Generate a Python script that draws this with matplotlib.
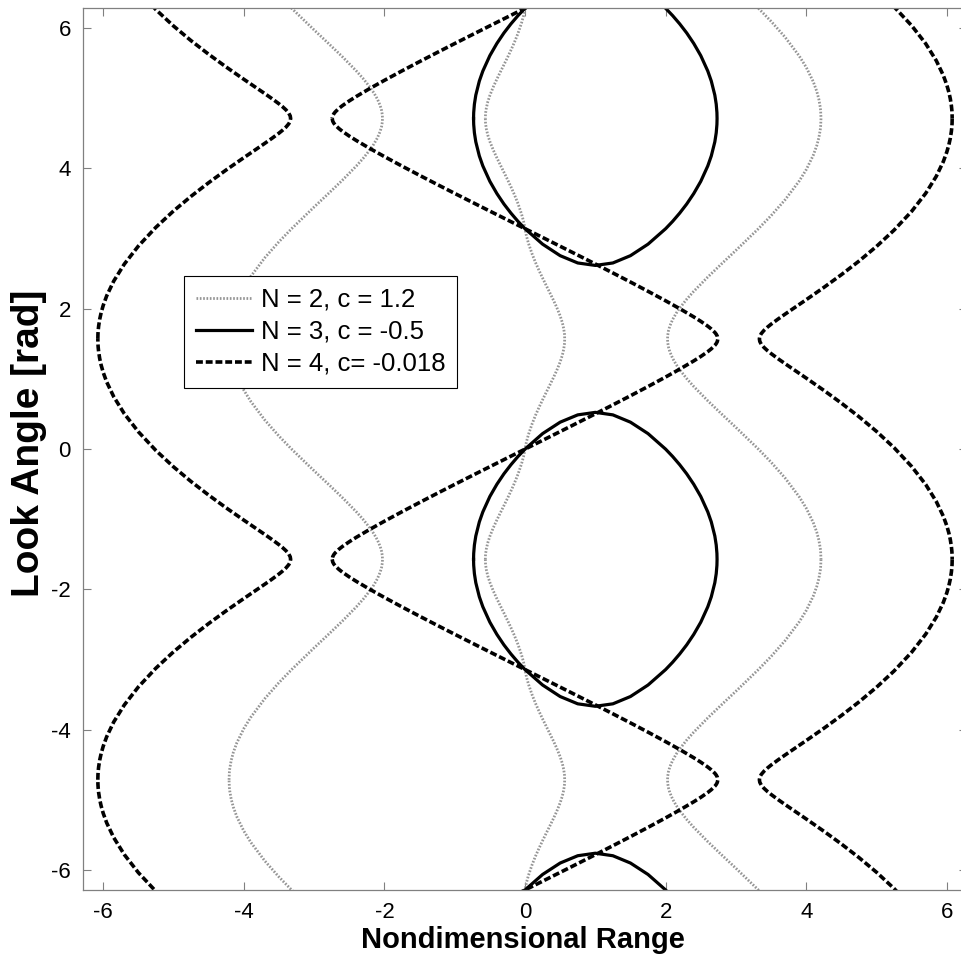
import numpy as np
import matplotlib.pyplot as plt
from matplotlib.lines import Line2D

plt.rcParams['font.family'] = ['Liberation Sans', 'DejaVu Sans']
plt.rcParams['axes.unicode_minus'] = False

TWO_PI = 2 * np.pi

# one 2*pi period of each trajectory: x = nondimensional range, y = look angle [rad]

# N = 2, c = 1.2 : branch around zero range
n2_mid_x = [-0.5643, -0.562, -0.56, -0.55, -0.53, -0.5, -0.45, -0.4, -0.35, -0.3, -0.25, -0.2, -0.15,
            -0.1, -0.05, -0.02, 0.0, 0.02, 0.05, 0.1, 0.15, 0.2, 0.25, 0.3, 0.35, 0.4, 0.45, 0.5,
            0.53, 0.55, 0.56, 0.562, 0.5643,
            0.562, 0.56, 0.55, 0.53, 0.5, 0.45, 0.4, 0.35, 0.3, 0.25, 0.2, 0.15, 0.1, 0.05, 0.02,
            0.0, -0.02, -0.05, -0.1, -0.15, -0.2, -0.25, -0.3, -0.35, -0.4, -0.45, -0.5, -0.53,
            -0.55, -0.56, -0.562, -0.5643]
n2_mid_y = [4.7124, 4.6528, 4.6311, 4.5627, 4.4773, 4.3840, 4.2598, 4.1510, 4.0482, 3.9471, 3.8447,
            3.7383, 3.6248, 3.4995, 3.3530, 3.2440, 3.1416, 3.0392, 2.9302, 2.7837, 2.6584, 2.5449,
            2.4385, 2.3361, 2.2350, 2.1322, 2.0234, 1.8992, 1.8059, 1.7205, 1.6521, 1.6304, 1.5708,
            1.5112, 1.4895, 1.4211, 1.3357, 1.2424, 1.1182, 1.0094, 0.9066, 0.8055, 0.7031, 0.5967,
            0.4832, 0.3579, 0.2114, 0.1024, 0.0, -0.1024, -0.2114, -0.3579, -0.4832, -0.5967,
            -0.7031, -0.8055, -0.9066, -1.0094, -1.1182, -1.2424, -1.3357, -1.4211, -1.4895,
            -1.5112, -1.5708]

# N = 2 : right-hand branch (the left one is its point reflection)
n2_side_x = [4.2102, 4.205, 4.2, 4.18, 4.15, 4.1, 4.0, 3.9, 3.7, 3.5, 3.32, 3.0, 2.8, 2.6, 2.4, 2.3,
             2.2, 2.15, 2.1, 2.06, 2.04, 2.03, 2.0274,
             2.03, 2.04, 2.06, 2.1, 2.15, 2.2, 2.3, 2.4, 2.6, 2.8, 3.0, 3.32, 3.5, 3.7, 3.9, 4.0,
             4.1, 4.15, 4.18, 4.2, 4.205, 4.2102]
n2_side_y = [4.7124, 4.5990, 4.5532, 4.4384, 4.3250, 4.1868, 3.9824, 3.8203, 3.5540, 3.3273, 3.1416,
             2.8325, 2.6443, 2.4527, 2.2487, 2.1363, 2.0093, 1.9355, 1.8476, 1.7542, 1.6841,
             1.6220, 1.5708,
             1.5196, 1.4575, 1.3874, 1.2940, 1.2061, 1.1323, 1.0053, 0.8929, 0.6889, 0.4973,
             0.3091, 0.0, -0.1857, -0.4124, -0.6787, -0.8408, -1.0452, -1.1834, -1.2968, -1.4116,
             -1.4574, -1.5708]

# N = 3, c = -0.5 : closed loop
n3_loop_x = [-0.732, -0.73, -0.72, -0.70, -0.65, -0.60, -0.50, -0.40, -0.30, -0.20, -0.10, 0.00,
             0.25, 0.50, 0.75, 1.00, 1.25, 1.50, 1.75, 2.00, 2.10, 2.20, 2.30, 2.40, 2.50, 2.60,
             2.65, 2.70, 2.72, 2.73, 2.732,
             2.73, 2.72, 2.70, 2.65, 2.60, 2.50, 2.40, 2.30, 2.20, 2.10, 2.00, 1.75, 1.50, 1.25,
             1.00, 0.75, 0.50, 0.25, 0.00, -0.10, -0.20, -0.30, -0.40, -0.50, -0.60, -0.65, -0.70,
             -0.72, -0.73, -0.732]
n3_loop_y = [-1.571, -1.487, -1.367, -1.238, -1.038, -0.895, -0.675, -0.501, -0.352, -0.222,
             -0.105, 0.000, 0.221, 0.384, 0.488, 0.524, 0.488, 0.384, 0.221, 0.000, -0.105, -0.222,
             -0.352, -0.501, -0.675, -0.895, -1.038, -1.238, -1.367, -1.487, -1.571,
             -1.655, -1.775, -1.904, -2.104, -2.247, -2.467, -2.641, -2.790, -2.920, -3.037,
             -3.142, -3.362, -3.526, -3.630, -3.665, -3.630, -3.526, -3.362, -3.142, -3.037,
             -2.920, -2.790, -2.641, -2.467, -2.247, -2.104, -1.904, -1.775, -1.655, -1.571]

# N = 4, c = -0.018 : zigzag through the origin
n4_mid_x = [-2.743, -2.735, -2.72, -2.7, -2.65, -2.6, -2.5, -2.4, -2.2, -2.0, -1.75, -1.5, -1.25,
            -1.0, -0.75, -0.5, -0.25, 0.0, 0.25, 0.5, 0.75, 1.0, 1.25, 1.5, 1.75, 2.0, 2.2, 2.4,
            2.5, 2.6, 2.65, 2.7, 2.72, 2.735, 2.743,
            2.735, 2.72, 2.7, 2.65, 2.6, 2.5, 2.4, 2.2, 2.0, 1.75, 1.5, 1.25, 1.0, 0.75, 0.5, 0.25,
            0.0, -0.25, -0.5, -0.75, -1.0, -1.25, -1.5, -1.75, -2.0, -2.2, -2.4, -2.5, -2.6,
            -2.65, -2.7, -2.72, -2.735, -2.743]
n4_mid_y = [4.7124, 4.6738, 4.6457, 4.6197, 4.5711, 4.5312, 4.4617, 4.3986, 4.2809, 4.1691, 4.0339,
            3.9021, 3.7725, 3.6445, 3.5178, 3.3920, 3.2666, 3.1416, 3.0166, 2.8912, 2.7654,
            2.6387, 2.5107, 2.3811, 2.2493, 2.1141, 2.0023, 1.8846, 1.8215, 1.7520, 1.7121,
            1.6635, 1.6375, 1.6094, 1.5708,
            1.5322, 1.5041, 1.4781, 1.4295, 1.3896, 1.3201, 1.2570, 1.1393, 1.0275, 0.8923,
            0.7605, 0.6309, 0.5029, 0.3762, 0.2504, 0.1250, 0.0, -0.1250, -0.2504, -0.3762,
            -0.5029, -0.6309, -0.7605, -0.8923, -1.0275, -1.1393, -1.2570, -1.3201, -1.3896,
            -1.4295, -1.4781, -1.5041, -1.5322, -1.5708]

# N = 4 : right-hand branch (the left one is its point reflection)
n4_side_x = [6.0765, 6.075, 6.072, 6.065, 6.05, 6.03, 6.0, 5.95, 5.85, 5.7, 5.5, 5.25, 5.0, 4.75,
             4.5, 4.25, 4.0, 3.8, 3.7, 3.6, 3.5, 3.45, 3.4, 3.36, 3.34, 3.334,
             3.34, 3.36, 3.4, 3.45, 3.5, 3.6, 3.7, 3.8, 4.0, 4.25, 4.5, 4.75, 5.0, 5.25, 5.5, 5.7,
             5.85, 5.95, 6.0, 6.03, 6.05, 6.065, 6.072, 6.075, 6.0765]
n4_side_y = [4.7124, 4.6456, 4.5964, 4.5289, 4.4322, 4.3404, 4.2346, 4.0971, 3.8875, 3.6462,
             3.3889, 3.1213, 2.8889, 2.6794, 2.4859, 2.3037, 2.1294, 1.9927, 1.9241, 1.8539,
             1.7798, 1.7392, 1.6931, 1.6456, 1.6071, 1.5708,
             1.5345, 1.4960, 1.4485, 1.4024, 1.3618, 1.2877, 1.2175, 1.1489, 1.0122, 0.8379,
             0.6557, 0.4622, 0.2527, 0.0203, -0.2473, -0.5046, -0.7459, -0.9555, -1.0930,
             -1.1988, -1.2906, -1.3873, -1.4548, -1.5040, -1.5708]

labels = ['N = 2, c = 1.2', 'N = 3, c = -0.5', 'N = 4, c= -0.018']

gray_style = dict(color='#959595', lw=2.0, ls=(0, (0.6, 0.6)))
solid_style = dict(color='black', lw=2.3, ls='-')
dash_style = dict(color='black', lw=2.6, ls=(0, (1.9, 0.8)))

fig = plt.figure(figsize=(9.62, 9.61), dpi=100)
ax = fig.add_axes([0.0866, 0.0739, 0.9183, 0.9175])

for k in (-1, 0, 1):
    s = k * TWO_PI
    ax.plot(n2_mid_x, np.array(n2_mid_y) + s, **gray_style)
    ax.plot(n2_side_x, np.array(n2_side_y) + s, **gray_style)
    ax.plot(-np.array(n2_side_x), -np.array(n2_side_y) + s, **gray_style)
for k in (-1, 0, 1):
    s = k * TWO_PI
    ax.plot(n3_loop_x, np.array(n3_loop_y) + s, **solid_style)
for k in (-1, 0, 1):
    s = k * TWO_PI
    ax.plot(n4_mid_x, np.array(n4_mid_y) + s, **dash_style)
    ax.plot(n4_side_x, np.array(n4_side_y) + s, **dash_style)
    ax.plot(-np.array(n4_side_x), -np.array(n4_side_y) + s, **dash_style)

ax.set_xlim(-TWO_PI, TWO_PI)
ax.set_ylim(-TWO_PI, TWO_PI)
ticks = [-6, -4, -2, 0, 2, 4, 6]
ax.set_xticks(ticks)
ax.set_yticks(ticks)
ax.set_xticklabels([str(t) for t in ticks])
ax.set_yticklabels([str(t) for t in ticks])
ax.tick_params(direction='in', length=6, width=0.8, color='#808080', labelsize=16,
               pad=9, top=True, right=True)
for sp in ax.spines.values():
    sp.set_color('#808080')
    sp.set_linewidth(0.9)

ax.set_xlabel('Nondimensional Range', fontsize=21, fontweight='bold')
ax.set_ylabel('Look Angle [rad]', fontsize=28, fontweight='bold')
ax.xaxis.set_label_coords(0.4977, -0.041)
ax.yaxis.set_label_coords(-0.041, 0.507)

handles = [Line2D([], [], **gray_style), Line2D([], [], **solid_style), Line2D([], [], **dash_style)]
leg = ax.legend(handles, labels, loc='upper left', bbox_to_anchor=(0.1143, 0.6964),
                borderaxespad=0, fancybox=False, edgecolor='black', framealpha=1,
                fontsize=18.5, handlelength=2.2, handletextpad=0.32, labelspacing=0.32,
                borderpad=0.45)
leg.get_frame().set_linewidth(0.8)

fig.savefig('out.png', dpi=100)
